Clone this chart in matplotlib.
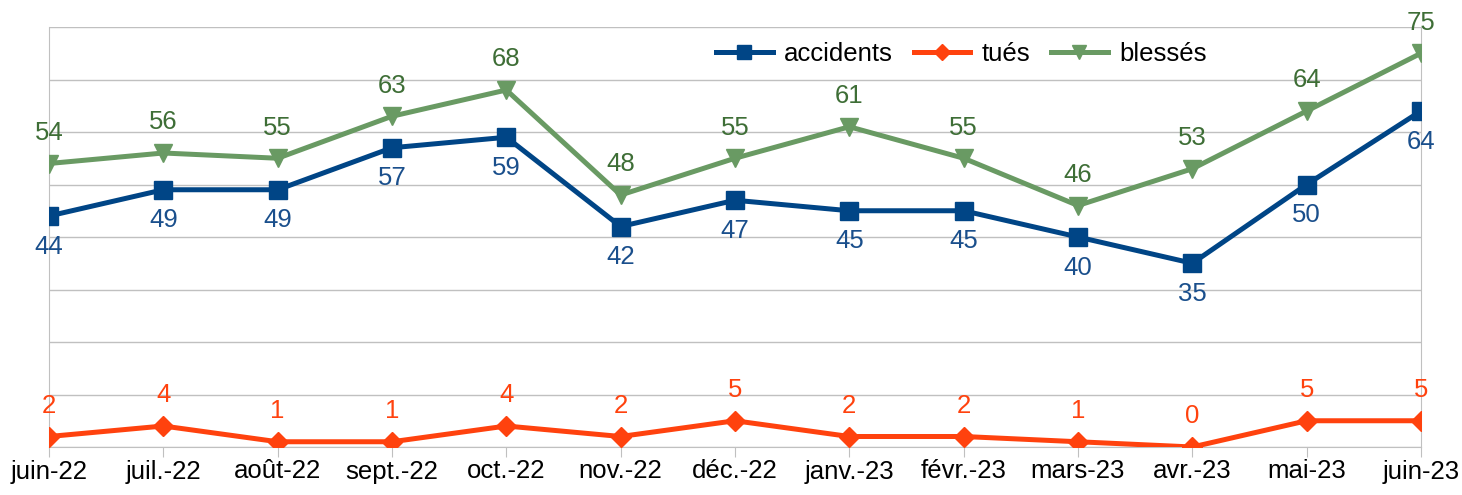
import matplotlib
matplotlib.use("Agg")
import matplotlib.pyplot as plt

plt.rcParams['font.family'] = ['Liberation Sans', 'DejaVu Sans']

mois = ["juin-22", "juil.-22", "août-22", "sept.-22", "oct.-22", "nov.-22", "déc.-22",
        "janv.-23", "févr.-23", "mars-23", "avr.-23", "mai-23", "juin-23"]
accidents = [44, 49, 49, 57, 59, 42, 47, 45, 45, 40, 35, 50, 64]
tues = [2, 4, 1, 1, 4, 2, 5, 2, 2, 1, 0, 5, 5]
blesses = [54, 56, 55, 63, 68, 48, 55, 61, 55, 46, 53, 64, 75]

c_acc = "#004586"
c_tues = "#ff420e"
c_bles = "#699a63"
grid_c = "#c0c0c0"
fs = 18.5


def main():
    fig = plt.figure(figsize=(14.62, 4.95), dpi=100)
    ax = fig.add_axes([49 / 1462, 1 - 447 / 495, (1421 - 49) / 1462, 420 / 495])
    x = list(range(len(mois)))

    ax.plot(x, accidents, color=c_acc, lw=3.6, marker="s", ms=13.5, label="accidents", zorder=3)
    ax.plot(x, tues, color=c_tues, lw=3.6, marker="D", ms=10.5, label="tués", zorder=3)
    ax.plot(x, blesses, color=c_bles, lw=3.6, marker="v", ms=13, label="blessés", zorder=3)

    for xi, v in zip(x, accidents):
        ax.annotate(str(v), (xi, v), xytext=(0, -22), textcoords="offset points",
                    ha="center", va="center", fontsize=fs, color="#1a4f8c")
    for xi, v in zip(x, blesses):
        ax.annotate(str(v), (xi, v), xytext=(0, 22), textcoords="offset points",
                    ha="center", va="center", fontsize=fs, color="#3e6e36")
    for xi, v in zip(x, tues):
        ax.annotate(str(v), (xi, v), xytext=(0, 22), textcoords="offset points",
                    ha="center", va="center", fontsize=fs, color=c_tues)

    ax.set_xlim(0, 12)
    ax.set_ylim(0, 80)
    ax.set_yticks(range(0, 81, 10))
    ax.yaxis.grid(True, color=grid_c, lw=1)
    ax.tick_params(axis="y", left=False, labelleft=False)
    ax.set_xticks(x)
    ax.set_xticklabels(mois, fontsize=fs)
    ax.tick_params(axis="x", length=7.5, color=grid_c, pad=1.5)
    for s in ["left", "right", "bottom"]:
        ax.spines[s].set_color(grid_c)
    ax.spines["top"].set_visible(False)
    ax.set_axisbelow(True)

    ax.legend(loc="center", bbox_to_anchor=(0.665, 0.935), ncol=3, frameon=False,
              fontsize=fs, handlelength=2.2, columnspacing=0.8, handletextpad=0.45,
              markerscale=0.75)

    fig.savefig("out.png", dpi=100)


if __name__ == '__main__':
    main()
